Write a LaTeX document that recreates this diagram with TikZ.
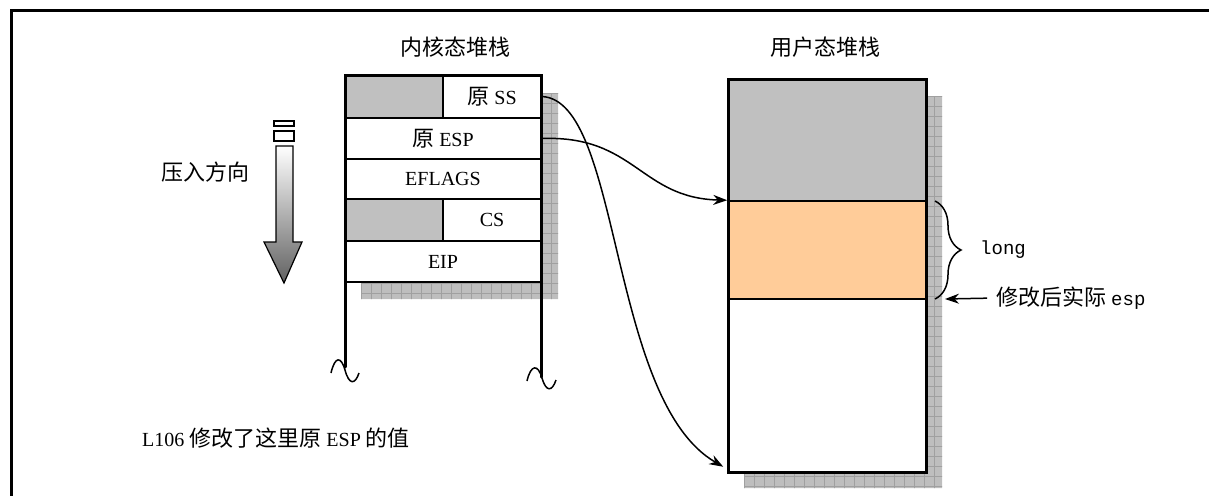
\documentclass[tikz,border=0pt]{standalone}
\usepackage{fontspec}
\setmainfont{Liberation Serif}
\newfontfamily\cjk{Noto Sans CJK SC}
\newfontfamily\monofnt{Liberation Mono}
\usetikzlibrary{arrows.meta,decorations.pathreplacing}
\definecolor{cellgray}{RGB}{192,192,192}
\definecolor{cellorange}{RGB}{255,204,153}
\definecolor{shadowfill}{RGB}{190,190,190}
\definecolor{shadowline}{RGB}{160,160,160}
\begin{document}
\begin{tikzpicture}[x=1pt,y=-1pt,
  txt/.style={font=\fontsize{20}{22}\selectfont, inner sep=0pt},
  cell/.style={draw, line width=1.5pt, fill=white, inner sep=0pt, font=\fontsize{20}{22}\selectfont},
  graycell/.style={draw, line width=1.5pt, fill=cellgray, inner sep=0pt},
  thickline/.style={line width=3pt, line cap=round},
  arr/.style={line width=1.5pt, -{Stealth[length=14pt,width=10pt]}},
  squig/.style={line width=1.5pt}]
\useasboundingbox (0,0) rectangle (1209,495);
% frame
\draw[line width=3pt] (11,500) -- (11,11) -- (1215,11);
% shadows
\begin{scope}
  \fill[shadowfill] (541,93) rectangle (558,299) (361,282) rectangle (558,299);
  \clip (541,93) rectangle (558,299) (361,282) rectangle (558,299);
  \foreach \xx in {361,371,...,561} \draw[shadowline, line width=0.6pt] (\xx,83) -- (\xx,300);
  \foreach \yy in {93,103,...,303} \draw[shadowline, line width=0.6pt] (351,\yy) -- (560,\yy);
\end{scope}
\begin{scope}
  \fill[shadowfill] (926,96) rectangle (942,488) (744,472) rectangle (942,488);
  \clip (926,96) rectangle (942,488) (744,472) rectangle (942,488);
  \foreach \xx in {744,754,...,944} \draw[shadowline, line width=0.6pt] (\xx,86) -- (\xx,490);
  \foreach \yy in {96,106,...,496} \draw[shadowline, line width=0.6pt] (734,\yy) -- (950,\yy);
\end{scope}
% titles
\node[txt, font=\cjk\fontsize{22}{24}\selectfont] (kt) at (455,47) {内核态堆栈};
\node[txt, font=\cjk\fontsize{22}{24}\selectfont] (ut) at (825,47) {用户态堆栈};
% kernel stack cells
\node[graycell, minimum width=98pt, minimum height=43pt] (ssg) at (394,96.5) {};
\node[cell, minimum width=98pt, minimum height=43pt] (ss) at (492,96.5) {{\cjk\fontsize{22}{24}\selectfont 原} SS};
\node[cell, minimum width=196pt, minimum height=41pt] (esp) at (443,138.5) {{\cjk\fontsize{22}{24}\selectfont 原} ESP};
\node[cell, minimum width=196pt, minimum height=40pt] (efl) at (443,179) {EFLAGS};
\node[graycell, minimum width=98pt, minimum height=41pt] (csg) at (394,220) {};
\node[cell, minimum width=98pt, minimum height=41pt] (cs) at (492,220) {CS};
\node[cell, minimum width=196pt, minimum height=41pt] (eip) at (443,261.5) {EIP};
\draw[thickline] (345,367) -- (345,75) -- (541,75) -- (541,377);
% squiggles
\draw[squig] (331,373) .. controls (335,356) and (341,356) .. (345,370) .. controls (349,385) and (355,385) .. (359,373);
\draw[squig] (527,381) .. controls (531,364) and (538,364) .. (542,378) .. controls (546,392) and (552,392) .. (556,380);
% push direction arrow
\node[txt, font=\cjk\fontsize{22}{24}\selectfont] (push) at (205,172) {压入方向};
\draw[line width=1.2pt] (274,121) rectangle (294,126);
\draw[line width=1.2pt] (274,131) rectangle (294,141);
\shade[top color=white, bottom color=black!62, draw=black, line width=1.2pt]
  (276,146) -- (293,146) -- (293,242) -- (302,242) -- (284,283) -- (264,242) -- (276,242) -- cycle;
% user stack
\node[graycell, minimum width=198pt, minimum height=122pt] (ug) at (827,140) {};
\node[graycell, fill=cellorange, minimum width=198pt, minimum height=98pt] (uo) at (827,250) {};
\node[graycell, fill=white, minimum width=198pt, minimum height=173pt] (uw) at (827,385.5) {};
\draw[line width=3pt] (728,79) rectangle (926,472);
% brace and labels
\coordinate (bt) at (935,201);
\coordinate (bb) at (935,299);
\draw[line width=1.5pt, decorate, decoration={brace, amplitude=26pt}] (bt) -- (bb);
\node[txt, anchor=west, font=\monofnt\fontsize{19}{22}\selectfont] (long) at (980,250) {long};
\node[txt, anchor=west] (espl) at (996,298) {{\cjk\fontsize{22}{24}\selectfont 修改后实际} {\monofnt\fontsize{19}{22}\selectfont esp}};
\coordinate (espc) at (945,299);
\draw[arr, shorten <=9pt] (espl.west) -- (espc);
% note
\node[txt, anchor=west] (note) at (142,438) {L106 {\cjk\fontsize{22}{24}\selectfont 修改了这里原} ESP {\cjk\fontsize{22}{24}\selectfont 的值}};
% curves
\draw[arr] (ss.east) .. controls (622,100) and (608,400) .. ([shift={(-4,-6)}]uw.south west);
\draw[arr] (esp.east) .. controls (635,135) and (640,198) .. (uo.north west);
\end{tikzpicture}
\end{document}
